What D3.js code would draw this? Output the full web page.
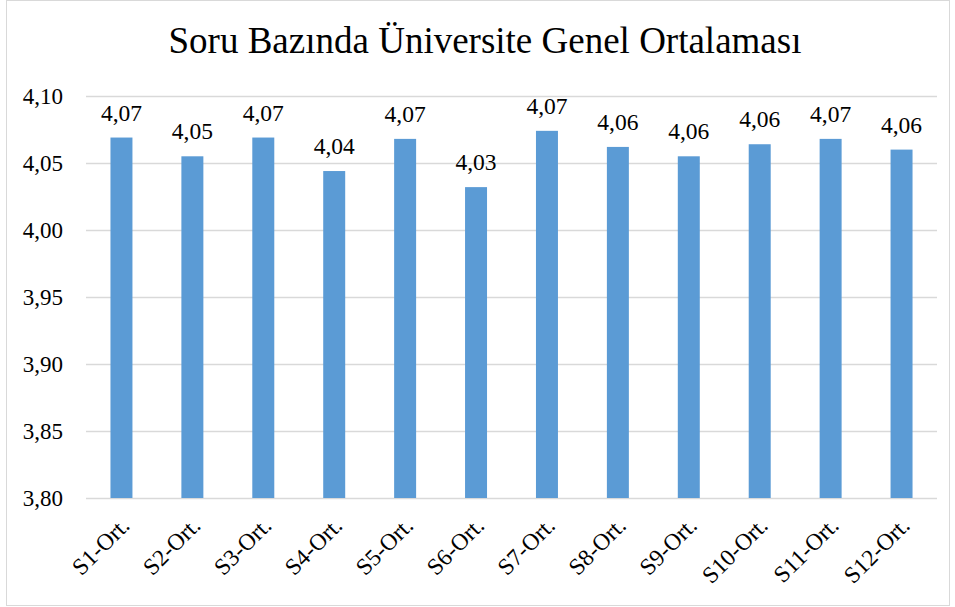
<!DOCTYPE html>
<html>
<head>
<meta charset="utf-8">
<script src="https://cdn.jsdelivr.net/npm/d3@7"></script>
<style>
  body { margin: 0; background: #fff; }
  text { font-family: "Liberation Serif", "Times New Roman", serif; fill: #000; }
</style>
</head>
<body>
<svg width="955" height="607"></svg>
<script>
// data
var categories = ['S1-Ort.', 'S2-Ort.', 'S3-Ort.', 'S4-Ort.', 'S5-Ort.', 'S6-Ort.',
                  'S7-Ort.', 'S8-Ort.', 'S9-Ort.', 'S10-Ort.', 'S11-Ort.', 'S12-Ort.'];
var values = [4.069, 4.055, 4.069, 4.044, 4.068, 4.032, 4.074, 4.062, 4.055, 4.064, 4.068, 4.060];
var labels = ['4,07', '4,05', '4,07', '4,04', '4,07', '4,03', '4,07', '4,06', '4,06', '4,06', '4,07', '4,06'];
var yTicks = [3.80, 3.85, 3.90, 3.95, 4.00, 4.05, 4.10];
var title = 'Soru Bazında Üniversite Genel Ortalaması';

var fmt = function(v) { return v.toFixed(2).replace('.', ','); };

var svg = d3.select('svg');

// outer border
svg.append('rect')
    .attr('x', 6.5).attr('y', 0.5)
    .attr('width', 943).attr('height', 605)
    .style('fill', 'none')
    .style('stroke', '#d9d9d9');

svg.append('text')
    .attr('x', 485).attr('y', 53)
    .attr('text-anchor', 'middle')
    .style('font-size', '37px')
    .text(title);

var x = d3.scaleBand().domain(categories).range([86, 937]).paddingInner(0.69).paddingOuter(0.345);
var y = d3.scaleLinear().domain([3.80, 4.10]).range([498, 96]);

// gridlines
svg.append('g')
    .selectAll('line')
    .data(yTicks)
    .enter().append('line')
    .attr('x1', 86).attr('x2', 937)
    .attr('y1', d => Math.round(y(d)) + 0.5)
    .attr('y2', d => Math.round(y(d)) + 0.5)
    .style('stroke', '#d9d9d9')
    .style('stroke-width', 1.3);

// y tick labels
svg.append('g')
    .selectAll('text')
    .data(yTicks)
    .enter().append('text')
    .attr('x', 63)
    .attr('y', d => y(d) + 8)
    .attr('text-anchor', 'end')
    .style('font-size', '23px')
    .text(fmt);

// bars
svg.append('g')
    .selectAll('rect')
    .data(values)
    .enter().append('rect')
    .attr('x', (d, i) => x(categories[i]))
    .attr('width', x.bandwidth())
    .attr('y', d => y(d))
    .attr('height', d => y(3.80) - y(d))
    .style('fill', '#5b9bd5');

// value labels
svg.append('g')
    .selectAll('text')
    .data(values)
    .enter().append('text')
    .attr('x', (d, i) => x(categories[i]) + x.bandwidth() / 2)
    .attr('y', d => y(d) - 17)
    .attr('text-anchor', 'middle')
    .style('font-size', '23.5px')
    .text((d, i) => labels[i]);

// category labels, rotated
svg.append('g')
    .selectAll('text')
    .data(categories)
    .enter().append('text')
    .attr('transform', d => 'translate(' + (x(d) + x.bandwidth() / 2 + 9.5) + ',527) rotate(-45)')
    .attr('text-anchor', 'end')
    .style('font-size', '23.5px')
    .text(d => d);
</script>
</body>
</html>
